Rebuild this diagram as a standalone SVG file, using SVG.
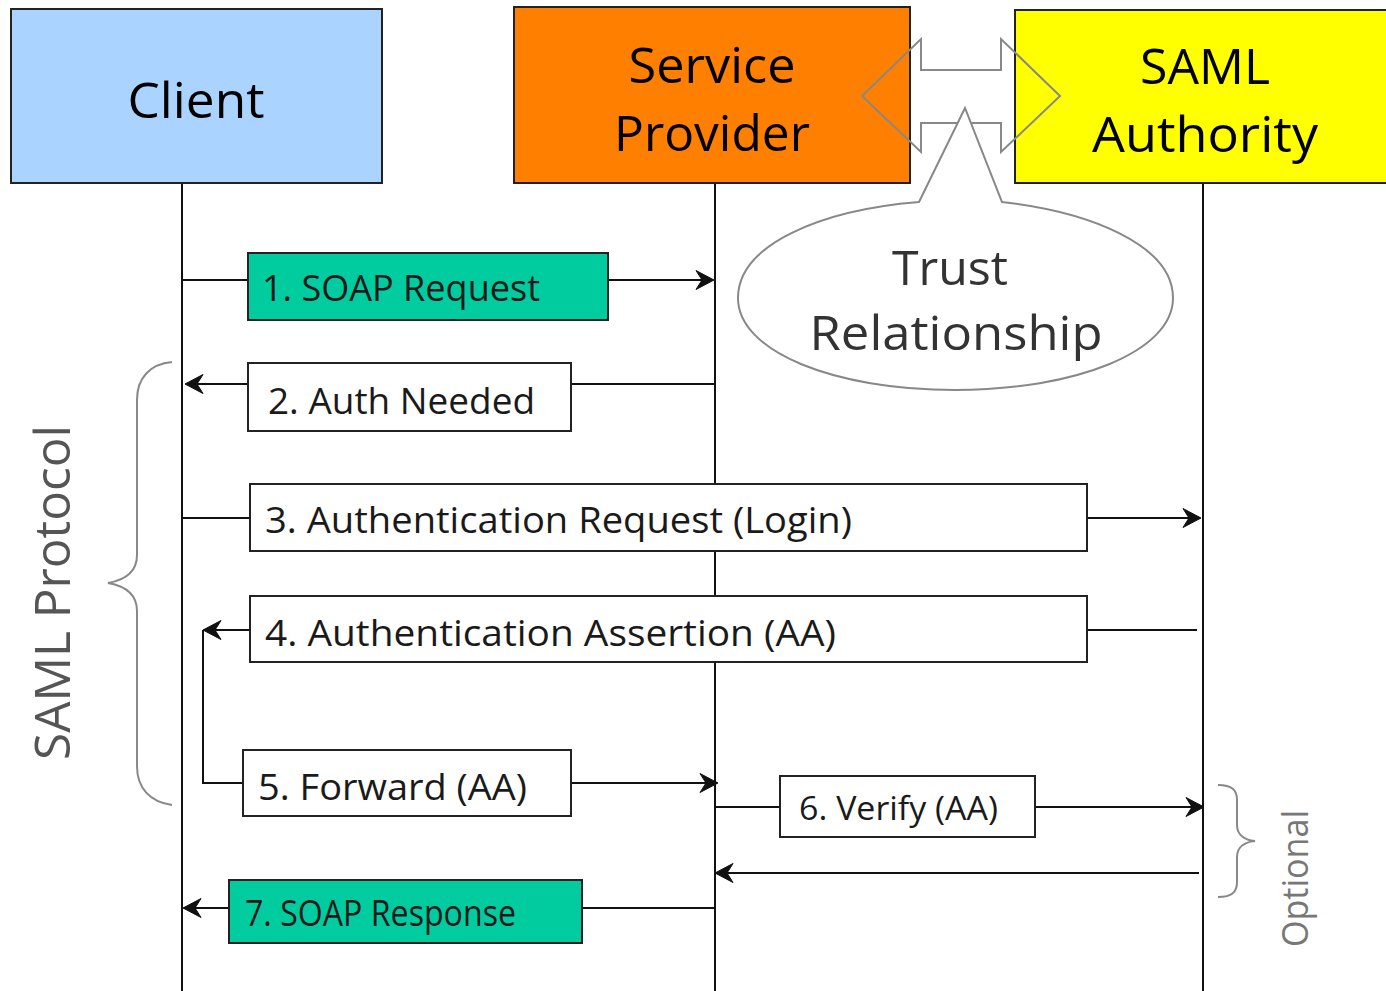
<svg xmlns="http://www.w3.org/2000/svg" width="1386" height="991" viewBox="0 0 1386 991">
  <style>
    .actor { stroke: #222; stroke-width: 2; }
    .actor-label { font-family: "Open Sans", "Noto Sans", sans-serif; font-size: 50px; font-weight: 500; fill: #000; text-anchor: middle; }
    .life { stroke: #111; stroke-width: 2; fill: none; }
    .msg { stroke: #111; stroke-width: 2; fill: none; }
    .arrow { marker-end: url(#head); }
    .box { fill: #fff; stroke: #222; stroke-width: 2; }
    .box.soap { fill: #00cc9f; }
    .label { font-family: "Open Sans", "Noto Sans", sans-serif; font-size: 37px; fill: #1a1a1a; }
    .label.small { font-size: 33px; }
    .soft { stroke: #888; stroke-width: 2; fill: none; }
    .note { font-family: "Open Sans", "Noto Sans", sans-serif; fill: #555; }
  </style>
  <defs>
    <!-- barbed arrowhead, tip at (20,11) -->
    <marker id="head" markerUnits="userSpaceOnUse" markerWidth="24" markerHeight="24" refX="20" refY="11" orient="auto">
      <path d="M21,11 L3,1.5 L8,9.5 L8,12.5 L3,20.5 Z" fill="#111" stroke="#111" stroke-width="1" stroke-linejoin="round"/>
    </marker>
  </defs>

  <!-- lifelines -->
  <g id="lifelines">
    <line class="life" x1="182" y1="183" x2="182" y2="991"/>
    <line class="life" x1="715" y1="183" x2="715" y2="991"/>
    <line class="life" x1="1203" y1="183" x2="1203" y2="991"/>
  </g>

  <!-- participants -->
  <g id="client">
    <rect class="actor" x="11" y="9" width="371" height="174" fill="#aad4ff"/>
    <text class="actor-label" x="196" y="118" textLength="137" lengthAdjust="spacingAndGlyphs">Client</text>
  </g>
  <g id="service-provider">
    <rect class="actor" x="514" y="7" width="396" height="176" fill="#ff7f00"/>
    <text class="actor-label" x="712" y="83" textLength="167" lengthAdjust="spacingAndGlyphs">Service</text>
    <text class="actor-label" x="712" y="151" textLength="196" lengthAdjust="spacingAndGlyphs">Provider</text>
  </g>
  <g id="saml-authority">
    <rect class="actor" x="1015" y="10" width="380" height="173" fill="#ffff00"/>
    <text class="actor-label" x="1205" y="84" textLength="130" lengthAdjust="spacingAndGlyphs">SAML</text>
    <text class="actor-label" x="1205" y="152" textLength="226" lengthAdjust="spacingAndGlyphs">Authority</text>
  </g>

  <!-- trust relationship between provider and authority -->
  <g id="trust">
    <path class="soft" d="M862,96 L921,39 L921,70 L1001,70 L1001,39 L1060,96 L1001,152 L1001,123 L921,123 L921,152 Z"/>
    <path d="M919,202 L965,108 L1002,202 C1090,212 1173,245 1173,298 C1173,352 1075,390 955,390 C835,390 738,352 738,298 C738,245 820,210 919,202 Z" fill="#fff" stroke="#888" stroke-width="2"/>
    <text class="note" x="950" y="285" font-size="48" text-anchor="middle" style="fill:#333" textLength="116" lengthAdjust="spacingAndGlyphs">Trust</text>
    <text class="note" x="956" y="350" font-size="48" text-anchor="middle" style="fill:#333" textLength="293" lengthAdjust="spacingAndGlyphs">Relationship</text>
  </g>

  <!-- message connectors -->
  <g id="connectors">
    <line class="msg" x1="182" y1="280" x2="248" y2="280"/>
    <line class="msg arrow" x1="608" y1="280" x2="713" y2="280"/>

    <line class="msg" x1="715" y1="384" x2="571" y2="384"/>
    <line class="msg arrow" x1="248" y1="384" x2="186" y2="384"/>

    <line class="msg" x1="182" y1="518" x2="250" y2="518"/>
    <line class="msg arrow" x1="1087" y1="518" x2="1200" y2="518"/>

    <line class="msg" x1="1197" y1="630" x2="1087" y2="630"/>
    <line class="msg arrow" x1="250" y1="630" x2="204" y2="630"/>

    <path class="msg" d="M203,630 L203,783 L243,783"/>
    <line class="msg arrow" x1="571" y1="783" x2="717" y2="783"/>

    <line class="msg" x1="715" y1="807" x2="780" y2="807"/>
    <line class="msg arrow" x1="1035" y1="807" x2="1203" y2="807"/>

    <line class="msg arrow" x1="1199" y1="873" x2="716" y2="873"/>

    <line class="msg" x1="715" y1="908" x2="582" y2="908"/>
    <line class="msg arrow" x1="229" y1="908" x2="184" y2="908"/>
  </g>

  <!-- message labels -->
  <g id="msg1">
    <rect class="box soap" x="248" y="253" width="360" height="67"/>
    <text class="label" x="262" y="301" textLength="278" lengthAdjust="spacingAndGlyphs">1. SOAP Request</text>
  </g>
  <g id="msg2">
    <rect class="box" x="248" y="363" width="323" height="68"/>
    <text class="label" x="268" y="414" textLength="267" lengthAdjust="spacingAndGlyphs">2. Auth Needed</text>
  </g>
  <g id="msg3">
    <rect class="box" x="250" y="484" width="837" height="67"/>
    <text class="label" x="265" y="533" textLength="587" lengthAdjust="spacingAndGlyphs">3. Authentication Request (Login)</text>
  </g>
  <g id="msg4">
    <rect class="box" x="250" y="596" width="837" height="66"/>
    <text class="label" x="265" y="646" textLength="571" lengthAdjust="spacingAndGlyphs">4. Authentication Assertion (AA)</text>
  </g>
  <g id="msg5">
    <rect class="box" x="243" y="750" width="328" height="66"/>
    <text class="label" x="258" y="800" textLength="269" lengthAdjust="spacingAndGlyphs">5. Forward (AA)</text>
  </g>
  <g id="msg6">
    <rect class="box" x="780" y="776" width="255" height="61"/>
    <text class="label small" x="799" y="820" textLength="199" lengthAdjust="spacingAndGlyphs">6. Verify (AA)</text>
  </g>
  <g id="msg7">
    <rect class="box soap" x="229" y="880" width="353" height="63"/>
    <text class="label" x="245" y="926" textLength="271" lengthAdjust="spacingAndGlyphs">7. SOAP Response</text>
  </g>

  <!-- grouping braces -->
  <g id="saml-protocol">
    <path class="soft" stroke-width="1.6" d="M172,362 C150,364 137,378 137,400 L137,555 C137,572 125,580 108,583 C125,586 137,594 137,611 L137,766 C137,788 150,802 172,805"/>
    <text class="note" font-size="50" transform="translate(70,760) rotate(-90)" textLength="335" lengthAdjust="spacingAndGlyphs">SAML Protocol</text>
  </g>
  <g id="optional">
    <path class="soft" stroke-width="1.6" d="M1218,785 C1232,785 1237,790 1237,800 L1237,825 C1237,835 1245,840 1255,841 C1245,842 1237,847 1237,857 L1237,882 C1237,892 1232,897 1218,897"/>
    <text class="note" font-size="36" transform="translate(1308,947) rotate(-90)" style="fill:#777" textLength="137" lengthAdjust="spacingAndGlyphs">Optional</text>
  </g>
</svg>
